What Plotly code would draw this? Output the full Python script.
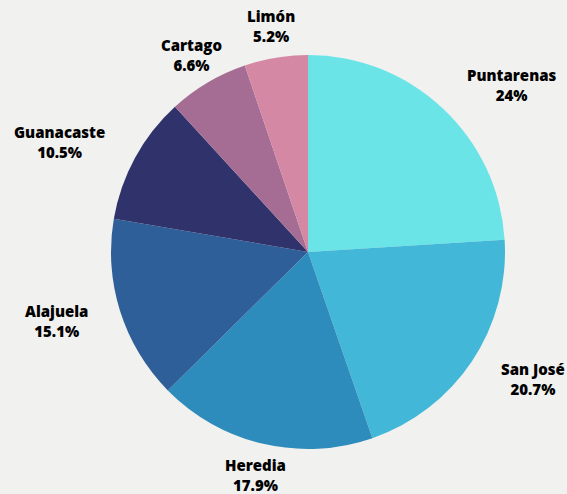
import math
import plotly.graph_objects as go

provinces = ["Puntarenas", "San José", "Heredia", "Alajuela", "Guanacaste", "Cartago", "Limón"]
shares = [24.0, 20.7, 17.9, 15.1, 10.5, 6.6, 5.2]
pct_labels = ["24%", "20.7%", "17.9%", "15.1%", "10.5%", "6.6%", "5.2%"]
colors = ["#6be4e8", "#43b7d7", "#2d8cbb", "#2e5f98", "#30336b", "#a56d94", "#d488a4"]

W, H = 567, 494
cx, cy, r = 308, 252, 197
label_r = 229

fig = go.Figure(go.Pie(
    labels=provinces,
    values=shares,
    sort=False,
    direction="clockwise",
    rotation=0,
    marker=dict(colors=colors, line=dict(width=0)),
    textinfo="none",
    showlegend=False,
    hoverinfo="label+percent",
    domain=dict(x=[(cx - r) / W, (cx + r) / W], y=[(H - cy - r) / H, (H - cy + r) / H]),
))

font = dict(family="Open Sans", size=15, color="#000000", weight=800)
total = sum(shares)
cum = 0.0
for name, val, pct in zip(provinces, shares, pct_labels):
    mid = (cum + val / 2) / total * 2 * math.pi
    cum += val
    ux, uy = math.sin(mid), -math.cos(mid)
    py = cy + uy * label_r
    px = cx + ux * label_r
    if abs(ux) >= 0.6:
        xanchor = "left" if ux > 0 else "right"
    else:
        xanchor = "center"
    fig.add_annotation(
        x=px / W, y=1 - py / H, xref="paper", yref="paper",
        text=f"{name}<br>{pct}", showarrow=False, xanchor=xanchor, yanchor="middle",
        font=font, align="center",
    )

fig.update_layout(
    width=W, height=H,
    margin=dict(l=0, r=0, t=0, b=0),
    paper_bgcolor="#f1f1ef",
    plot_bgcolor="#f1f1ef",
)

fig.write_html(
    "out.html",
    config={"displayModeBar": False},
    post_script="document.body.style.margin='0';document.body.style.background='#f1f1ef';",
)
